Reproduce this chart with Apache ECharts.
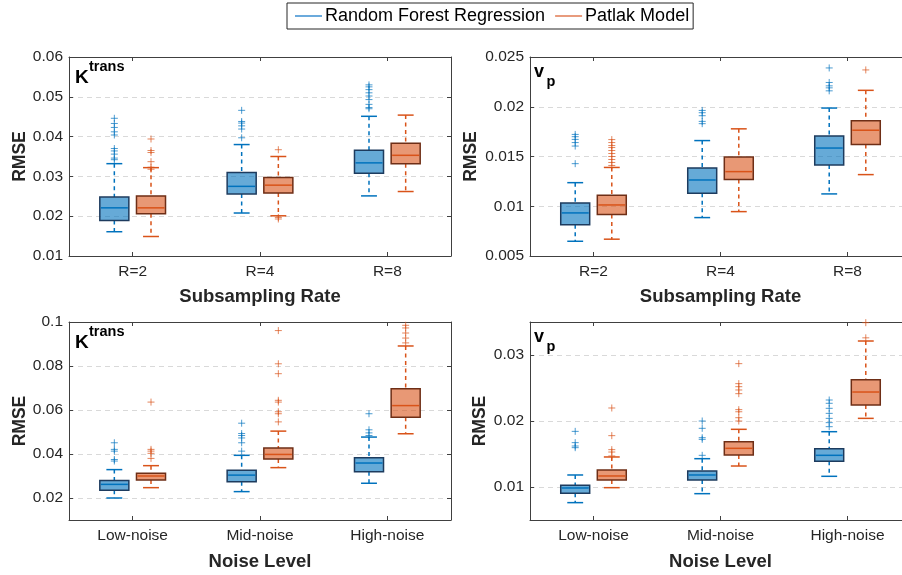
<!DOCTYPE html>
<html>
<head>
<meta charset="utf-8">
<script src="https://cdn.jsdelivr.net/npm/echarts@6/dist/echarts.min.js"></script>
<style>
html,body{margin:0;padding:0;background:#fff;}
#chart{width:902px;height:575px;}
</style>
</head>
<body>
<div id="chart"></div>
<script>
// ---------- DATA ----------
const rateCats = ['R=2', 'R=4', 'R=8'];
const noiseCats = ['Low-noise', 'Mid-noise', 'High-noise'];
const seriesNames = ['Random Forest Regression', 'Patlak Model'];

// box stats: [lower whisker, q1, median, q3, upper whisker]
const ktransRateRF = [[0.0161,0.0189,0.0221,0.0248,0.0332],[0.0208,0.0256,0.0275,0.0310,0.0380],[0.0251,0.0308,0.0334,0.0366,0.0451]];
const ktransRatePatlak = [[0.0149,0.0206,0.0221,0.0251,0.0322],[0.0201,0.0258,0.0278,0.0297,0.0350],[0.0262,0.0332,0.0353,0.0383,0.0454]];
const ktransRateRFOut = [[0.0446,0.0433,0.0423,0.0412,0.0404,0.0370,0.0364,0.0356,0.0346,0.0342],[0.0466,0.0438,0.0434,0.0427,0.0419,0.0397],[0.0530,0.0525,0.0518,0.0510,0.0502,0.0493,0.0481,0.0473,0.0470]];
const ktransRatePatlakOut = [[0.0394,0.0365,0.0360,0.0337,0.0323,0.0318],[0.0367,0.0197,0.0193],[]];
const ktransRateTicks = [0.01,0.02,0.03,0.04,0.05,0.06];

const vpRateRF = [[0.00648,0.00813,0.00933,0.01033,0.01237],[0.00886,0.0113,0.01264,0.01385,0.0166],[0.01124,0.01415,0.01585,0.01706,0.01987]];
const vpRatePatlak = [[0.00669,0.00916,0.01013,0.0111,0.0139],[0.00946,0.0127,0.01348,0.01495,0.01778],[0.01318,0.0162,0.01764,0.0186,0.02165]];
const vpRateRFOut = [[0.01722,0.01699,0.01672,0.0164,0.01605,0.01428],[0.01963,0.0194,0.0191,0.01853,0.0183],[0.0239,0.02244,0.0221,0.0219,0.0216]];
const vpRatePatlakOut = [[0.0167,0.0164,0.0161,0.0159,0.0156,0.0153,0.0150,0.0147,0.0144,0.0141],[],[0.0237]];
const vpRateTicks = [0.005,0.01,0.015,0.02,0.025];

const ktransNoiseRF = [[0.0200,0.02348,0.0262,0.0280,0.0329],[0.0229,0.0274,0.0304,0.0326,0.0394],[0.0267,0.0319,0.0359,0.0383,0.0477]];
const ktransNoisePatlak = [[0.0247,0.0282,0.0300,0.0312,0.0347],[0.0338,0.0377,0.0398,0.0427,0.0504],[0.0492,0.0567,0.0620,0.0697,0.0891]];
const ktransNoiseRFOut = [[0.0451,0.0421,0.0413,0.0375,0.0368],[0.0540,0.0493,0.0484,0.0473,0.0451,0.0413],[0.0583,0.0510,0.0496,0.0484]];
const ktransNoisePatlakOut = [[0.0636,0.0421,0.0413,0.0403,0.0380],[0.0961,0.0810,0.0765,0.0644,0.0636,0.0592,0.0583,0.0546],[0.0985,0.0973,0.0950,0.0927,0.0905]];
const ktransNoiseTicks = [0.02,0.04,0.06,0.08,0.1];

const vpNoiseRF = [[0.00763,0.00904,0.00985,0.01025,0.01182],[0.00899,0.01106,0.01182,0.01242,0.01429],[0.01162,0.01389,0.0148,0.01581,0.01838]];
const vpNoisePatlak = [[0.0099,0.01106,0.01167,0.01258,0.01455],[0.01318,0.01485,0.01586,0.01687,0.01874],[0.0204,0.02242,0.02439,0.02626,0.03212]];
const vpNoiseRFOut = [[0.01843,0.01672,0.01621,0.01596],[0.0200,0.01889,0.01747,0.01722,0.0148],[0.02318,0.02268,0.02192,0.02116,0.0204,0.01975,0.01914]];
const vpNoisePatlakOut = [[0.02197,0.01778,0.01566,0.0153,0.0147],[0.02869,0.02566,0.0252,0.0247,0.02414,0.02172,0.0214,0.0205,0.0200],[0.0349,0.0326]];
const vpNoiseTicks = [0.01,0.02,0.03];

// ---------- LAYOUT / STYLE ----------
const FONT = "'Liberation Sans', Arial, Helvetica, sans-serif";
const TXT = '#262626';
const AX = '#404040';
const STY = [
  {mid: '#0072BD', face: 'rgba(0,114,189,0.6)', edge: '#1d3b5e', legend: '#3a8ed0', side: -1},
  {mid: '#D95319', face: 'rgba(217,83,25,0.6)', edge: '#6e2e16', legend: '#e07a52', side: 1}
];

const panels = [
  {cats: rateCats, box: [ktransRateRF, ktransRatePatlak], out: [ktransRateRFOut, ktransRatePatlakOut], ticks: ktransRateTicks,
   yMin: 0.01, yMax: 0.06, xName: 'Subsampling Rate', lab: 'K', lab2: 'trans', sup: true,
   grid: {left: 69, top: 57, width: 382, height: 199}, yNameGap: 40, xNameGap: 31},
  {cats: rateCats, box: [vpRateRF, vpRatePatlak], out: [vpRateRFOut, vpRatePatlakOut], ticks: vpRateTicks,
   yMin: 0.005, yMax: 0.025, xName: 'Subsampling Rate', lab: 'v', lab2: 'p', sup: false,
   grid: {left: 530, top: 57, width: 381, height: 199}, yNameGap: 50, xNameGap: 31},
  {cats: noiseCats, box: [ktransNoiseRF, ktransNoisePatlak], out: [ktransNoiseRFOut, ktransNoisePatlakOut], ticks: ktransNoiseTicks,
   yMin: 0.01, yMax: 0.1, xName: 'Noise Level', lab: 'K', lab2: 'trans', sup: true,
   grid: {left: 69, top: 322, width: 382, height: 198}, yNameGap: 40, xNameGap: 32},
  {cats: noiseCats, box: [vpNoiseRF, vpNoisePatlak], out: [vpNoiseRFOut, vpNoisePatlakOut], ticks: vpNoiseTicks,
   yMin: 0.005, yMax: 0.035, xName: 'Noise Level', lab: 'v', lab2: 'p', sup: false,
   grid: {left: 530, top: 322, width: 381, height: 198}, yNameGap: 41, xNameGap: 32}
];

const OFF = 0.144, BOXW = 0.228, CAPW = 0.125;

function boxRender(s) {
  return function (params, api) {
    const cat = api.value(0);
    const band = api.size([1, 0])[0];
    const cx = api.coord([cat, api.value(3)])[0] + s.side * band * OFF;
    const y = i => api.coord([cat, api.value(i)])[1];
    const yl = y(1), yq1 = y(2), ym = y(3), yq3 = y(4), yh = y(5);
    const w = band * BOXW, cw = band * CAPW / 2;
    const dash = {stroke: s.mid, lineWidth: 1.5, lineDash: [4, 3.5]};
    const solid = {stroke: s.mid, lineWidth: 1.5};
    return {type: 'group', children: [
      {type: 'line', shape: {x1: cx, y1: yh, x2: cx, y2: yq3}, style: dash},
      {type: 'line', shape: {x1: cx, y1: yq1, x2: cx, y2: yl}, style: dash},
      {type: 'line', shape: {x1: cx - cw, y1: yh, x2: cx + cw, y2: yh}, style: solid},
      {type: 'line', shape: {x1: cx - cw, y1: yl, x2: cx + cw, y2: yl}, style: solid},
      {type: 'rect', shape: {x: cx - w / 2, y: yq3, width: w, height: yq1 - yq3}, style: {fill: s.face, stroke: s.edge, lineWidth: 1.5}},
      {type: 'line', shape: {x1: cx - w / 2 + 1, y1: ym, x2: cx + w / 2 - 1, y2: ym}, style: solid}
    ]};
  };
}
function outRender(s) {
  return function (params, api) {
    const cat = api.value(0);
    const band = api.size([1, 0])[0];
    const p = api.coord([cat, api.value(1)]);
    const cx = p[0] + s.side * band * OFF, cy = p[1], h = 3.5;
    const st = {stroke: s.mid, lineWidth: 1, opacity: 0.7};
    return {type: 'group', children: [
      {type: 'line', shape: {x1: cx - h, y1: cy, x2: cx + h, y2: cy}, style: st},
      {type: 'line', shape: {x1: cx, y1: cy - h, x2: cx, y2: cy + h}, style: st}
    ]};
  };
}

const grids = [], xAxes = [], yAxes = [], series = [], graphics = [];
panels.forEach((p, i) => {
  grids.push(Object.assign({containLabel: false, outerBoundsMode: 'none'}, p.grid));
  const tick = {show: true, inside: true, length: 4, alignWithLabel: true, lineStyle: {color: AX, width: 1}};
  const line = {show: true, onZero: false, lineStyle: {color: AX, width: 1}};
  xAxes.push({type: 'category', gridIndex: i, data: p.cats, position: 'bottom',
    axisLine: line, axisTick: tick,
    axisLabel: {fontSize: 15.5, color: TXT, fontFamily: FONT, margin: 8},
    name: p.xName, nameLocation: 'middle', nameGap: p.xNameGap,
    nameTextStyle: {fontSize: 18.5, fontWeight: 'bold', color: TXT, fontFamily: FONT},
    splitLine: {show: false}});
  xAxes.push({type: 'category', gridIndex: i, data: p.cats, position: 'top',
    axisLine: line, axisTick: tick, axisLabel: {show: false}, splitLine: {show: false}});
  const ytick = {show: true, inside: true, length: 4, customValues: p.ticks, lineStyle: {color: AX, width: 1}};
  yAxes.push({type: 'value', gridIndex: i, min: p.yMin, max: p.yMax, position: 'left',
    axisLine: line, axisTick: ytick,
    axisLabel: {fontSize: 15.5, color: TXT, fontFamily: FONT, margin: 6, customValues: p.ticks},
    splitLine: {show: true, lineStyle: {color: '#d9d9d9', type: [5, 4], width: 1}},
    name: 'RMSE', nameLocation: 'middle', nameGap: p.yNameGap, nameRotate: 90,
    nameTextStyle: {fontSize: 17.5, fontWeight: 'bold', color: TXT, fontFamily: FONT}});
  yAxes.push({type: 'value', gridIndex: i, min: p.yMin, max: p.yMax, position: 'right',
    axisLine: line, axisTick: ytick, axisLabel: {show: false, customValues: p.ticks}, splitLine: {show: false}});

  STY.forEach((s, k) => {
    series.push({type: 'custom', name: seriesNames[k], xAxisIndex: 2 * i, yAxisIndex: 2 * i,
      renderItem: boxRender(s), encode: {x: 0, y: [1, 2, 3, 4, 5]},
      itemStyle: {color: s.legend}, z: 3, silent: true,
      data: p.box[k].map((b, c) => [c].concat(b))});
    const od = [];
    p.out[k].forEach((arr, c) => arr.forEach(v => od.push([c, v])));
    series.push({type: 'custom', name: seriesNames[k], xAxisIndex: 2 * i, yAxisIndex: 2 * i,
      renderItem: outRender(s), encode: {x: 0, y: 1}, itemStyle: {color: s.legend}, z: 4, silent: true,
      data: od});
  });

  const gx = p.grid.left, gy = p.grid.top;
  if (p.sup) {
    graphics.push({type: 'text', x: gx + 6, y: gy + 21, style: {text: p.lab, fontSize: 19, fontWeight: 'bold', fontFamily: FONT, fill: '#000', align: 'left', verticalAlign: 'middle'}});
    graphics.push({type: 'text', x: gx + 20, y: gy + 10, style: {text: p.lab2, fontSize: 14.5, fontWeight: 'bold', fontFamily: FONT, fill: '#000', align: 'left', verticalAlign: 'middle'}});
  } else {
    graphics.push({type: 'text', x: gx + 4, y: gy + 15, style: {text: p.lab, fontSize: 18, fontWeight: 'bold', fontFamily: FONT, fill: '#000', align: 'left', verticalAlign: 'middle'}});
    graphics.push({type: 'text', x: gx + 16.5, y: gy + 25, style: {text: p.lab2, fontSize: 14.5, fontWeight: 'bold', fontFamily: FONT, fill: '#000', align: 'left', verticalAlign: 'middle'}});
  }
});

const chart = echarts.init(document.getElementById('chart'), null, {renderer: 'canvas'});
chart.setOption({
  backgroundColor: '#fff',
  animation: false,
  legend: {
    left: 287, top: 3, orient: 'horizontal',
    data: seriesNames.map((n, k) => ({name: n, icon: 'rect', itemStyle: {color: STY[k].legend}})),
    itemWidth: 27, itemHeight: 1.5, itemGap: 10,
    padding: [4, 4, 4, 8],
    borderColor: '#262626', borderWidth: 1,
    textStyle: {fontSize: 18, color: '#000', fontFamily: FONT, padding: [0, 0, 0, -2]},
    selectedMode: false
  },
  grid: grids, xAxis: xAxes, yAxis: yAxes, series: series, graphic: graphics
});
</script>
</body>
</html>
